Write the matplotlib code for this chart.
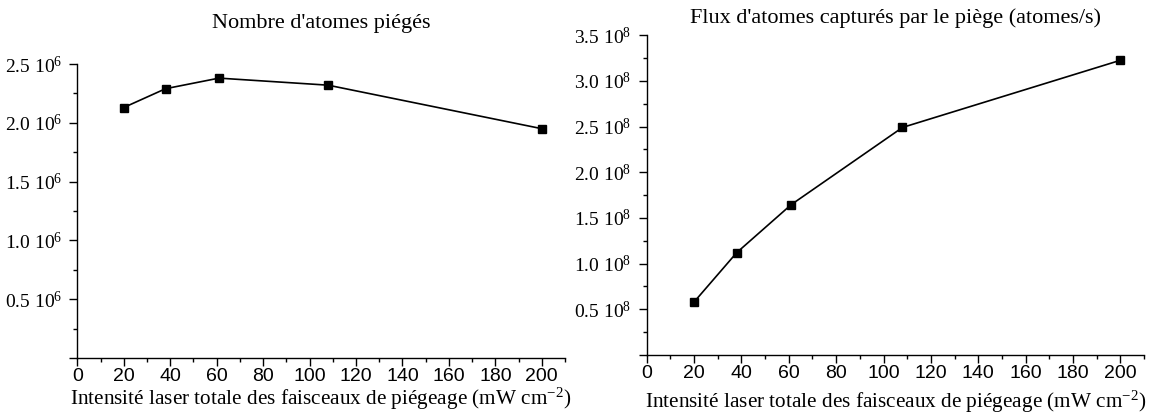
import matplotlib
matplotlib.use('Agg')
import matplotlib.pyplot as plt
from matplotlib.ticker import MultipleLocator, FuncFormatter

# intensity (mW cm-2)
intensity = [20, 38, 61, 108, 200]
# number of trapped atoms (units of 1e6)
n_atoms = [2.13, 2.29, 2.38, 2.32, 1.95]
# capture flux (units of 1e8 atoms/s)
flux = [0.58, 1.12, 1.645, 2.49, 3.225]

x_ticks = list(range(0, 201, 20))
xlabel = 'Intensité laser totale des faisceaux de piégeage (mW cm$^{-2}$)'
title_left = "Nombre d'atomes piégés"
title_right = "Flux d'atomes capturés par le piège (atomes/s)"

plt.rcParams['font.family'] = ['Liberation Serif', 'DejaVu Serif']
plt.rcParams['mathtext.fontset'] = 'custom'
plt.rcParams['mathtext.rm'] = 'Liberation Serif'
plt.rcParams['mathtext.it'] = 'Liberation Serif:italic'

fig = plt.figure(figsize=(11.54, 4.17), dpi=100)
ax1 = fig.add_axes([0.067, 0.1415, 0.4226, 0.705])
ax2 = fig.add_axes([0.5604, 0.1487, 0.431, 0.767])


def make_fmt(exp):
    def fmt(v, pos):
        if abs(v) < 1e-9:
            return ''
        return f'{v:.1f} 10$^{{{exp}}}$'
    return fmt


def style(ax, ymax, exp, ystep):
    ax.spines['top'].set_visible(False)
    ax.spines['right'].set_visible(False)
    ax.set_xlim(0, 210)
    ax.set_ylim(0, ymax)
    ax.set_xticks(x_ticks)
    ax.xaxis.set_minor_locator(MultipleLocator(10))
    ax.yaxis.set_major_locator(MultipleLocator(ystep))
    ax.yaxis.set_minor_locator(MultipleLocator(ystep / 2))
    ax.yaxis.set_major_formatter(FuncFormatter(make_fmt(exp)))
    ax.tick_params(which='major', length=6, width=1, direction='out')
    ax.tick_params(which='minor', length=3, width=1, direction='out')
    ax.tick_params(axis='y', labelsize=14, pad=5)
    ax.tick_params(axis='x', labelsize=14, pad=1)
    for lab in ax.get_xticklabels():
        lab.set_family('Liberation Sans')
    for sp in ax.spines.values():
        sp.set_linewidth(1)


ax1.plot(intensity, n_atoms, color='black', lw=1.2, marker='s', ms=5.5)
style(ax1, 2.5, 6, 0.5)
ax1.set_xlabel(xlabel, fontsize=15.3, labelpad=1)
ax1.set_title(title_left, fontsize=16, pad=26)

ax2.plot(intensity, flux, color='black', lw=1.2, marker='s', ms=5.5)
style(ax2, 3.5, 8, 0.5)
ax2.set_xlabel(xlabel, fontsize=15.3, labelpad=5)
ax2.set_title(title_right, fontsize=16, pad=9)

fig.savefig('out.png', dpi=100)
